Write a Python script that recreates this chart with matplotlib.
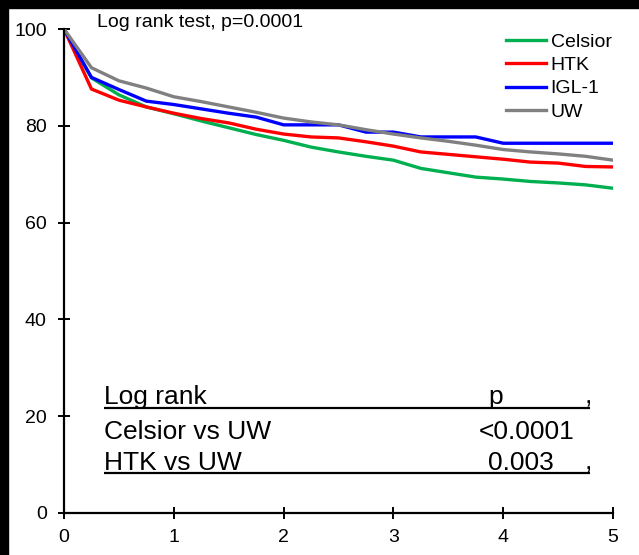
import numpy as np
import matplotlib
matplotlib.use('Agg')
import matplotlib.pyplot as plt
from matplotlib.patches import Rectangle

plt.rcParams['font.family'] = ['Liberation Sans', 'DejaVu Sans']

years = [0, 0.25, 0.5, 0.75, 1.0, 1.25, 1.5, 1.75, 2.0, 2.25, 2.5,
         2.75, 3.0, 3.25, 3.5, 3.75, 4.0, 4.25, 4.5, 4.75, 5.0]

celsior = [100, 89.9, 86.4, 83.9, 82.5, 81.0, 79.6, 78.2, 77.0, 75.6, 74.6,
           73.7, 72.9, 71.2, 70.3, 69.4, 69.0, 68.5, 68.2, 67.8, 67.1]
htk = [100, 87.6, 85.3, 83.9, 82.6, 81.5, 80.6, 79.3, 78.3, 77.7, 77.5,
       76.7, 75.8, 74.6, 74.1, 73.6, 73.1, 72.5, 72.3, 71.6, 71.5]
igl1 = [100, 90.0, 87.5, 85.1, 84.4, 83.5, 82.6, 81.8, 80.2, 80.2, 80.2,
        78.7, 78.7, 77.7, 77.7, 77.7, 76.4, 76.4, 76.4, 76.4, 76.4]
uw = [100, 92.0, 89.3, 87.8, 86.0, 85.0, 83.9, 82.8, 81.6, 80.8, 80.2,
      79.2, 78.3, 77.5, 76.8, 76.0, 75.1, 74.6, 74.2, 73.7, 72.9]

names = ['Celsior', 'HTK', 'IGL-1', 'UW']
colors = ['#00B050', '#FF0000', '#0000FF', '#808080']

table_rows = ['Log rank', 'Celsior vs UW', 'HTK vs UW']
table_p = ['p', '<0.0001', '0.003']

fig = plt.figure(figsize=(6.39, 5.55), dpi=100)
ax = fig.add_axes([0.1002, 0.0757, 0.8591, 0.872])

for ys, name, col in zip([celsior, htk, igl1, uw], names, colors):
    ax.plot(years, ys, color=col, lw=2.4, label=name, solid_joinstyle='round')

ax.set_xlim(0, 5)
ax.set_ylim(0, 100)
ax.set_xticks(range(0, 6))
ax.set_yticks(range(0, 101, 20))
for s in ['top', 'right']:
    ax.spines[s].set_visible(False)
for s in ['left', 'bottom']:
    ax.spines[s].set_linewidth(1.6)
ax.tick_params(direction='inout', length=9, width=1.4, labelsize=14, pad=8)
ax.tick_params(axis='x', pad=7)

ax.text(0.3, 101.3, 'Log rank test, p=0.0001', fontsize=14, va='center', clip_on=False)

ax.legend(loc='upper right', bbox_to_anchor=(1.015, 1.012), frameon=False, fontsize=14,
          handlelength=2.05, handletextpad=0.25, labelspacing=0.3, borderaxespad=0.1)

# small p-value table
row_y = [22.6, 15.2, 8.9]
for lab, p, yy in zip(table_rows, table_p, row_y):
    ax.text(0.36, yy, lab, fontsize=19, va='baseline')
    ax.text(3.78 if p.startswith('<') else 3.86, yy, p, fontsize=19, va='baseline')
ax.text(4.74, row_y[0], ',', fontsize=19, va='baseline')
ax.text(4.74, row_y[2], ',', fontsize=19, va='baseline')
ax.hlines([21.6, 8.2], 0.36, 4.79, color='black', lw=1.6)

# black border strips from the original screenshot
fig.patches.append(Rectangle((0, 0), 8 / 639, 1, transform=fig.transFigure, color='black'))
fig.patches.append(Rectangle((0, 1 - 8 / 555), 1, 8 / 555, transform=fig.transFigure, color='black'))

fig.savefig('out.png', dpi=100)
